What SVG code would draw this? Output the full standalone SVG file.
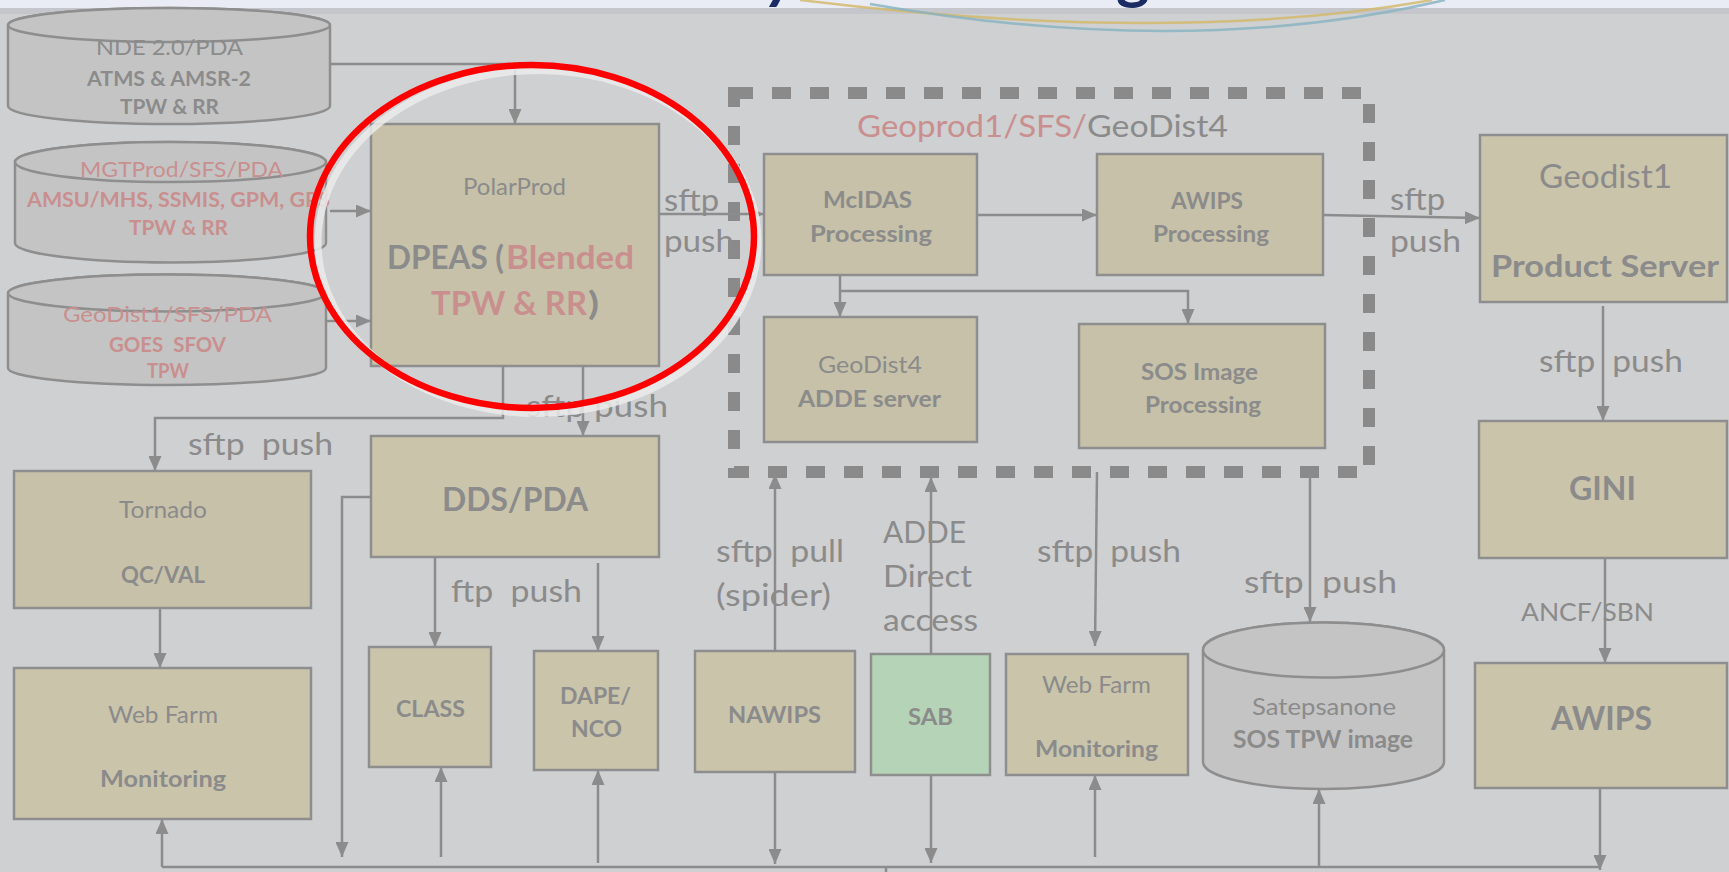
<svg xmlns="http://www.w3.org/2000/svg" width="1729" height="872" viewBox="0 0 1729 872">
<defs>
<style>
.bx{fill:#cac4ab;stroke:#8e8e8e;stroke-width:2.5}
.bx2{fill:#c6c1a8;stroke:#8e8e8e;stroke-width:2.5}
.cy{fill:#c4c4c4;stroke:#8e8e8e;stroke-width:2.5}
.t{font-family:Lato,'Open Sans','Liberation Sans',sans-serif;fill:#8b8b8b;white-space:pre}
.b{font-weight:bold}
.pk{fill:#c98f8f}
.ln{fill:none;stroke:#8c8c8c;stroke-width:2.5}
.ar{marker-end:url(#ah)}
</style>
<marker id="ah" viewBox="0 0 15 13" refX="15" refY="6.5" markerWidth="15" markerHeight="13" markerUnits="userSpaceOnUse" orient="auto"><path d="M0,0 L15,6.5 L0,13 z" fill="#8c8c8c"/></marker>
</defs>
<rect x="0" y="0" width="1729" height="872" fill="#cfd0d2"/>
<rect x="0" y="0" width="1729" height="8" fill="#e9ecf4"/>
<rect x="0" y="8" width="1729" height="6" fill="#c5c6cb"/>
<g id="title-fragments">
<path d="M800,0 Q1174,46 1432,0" fill="none" stroke="#d2b868" stroke-width="2.5" opacity="0.8"/>
<path d="M870,4 Q1190,60 1445,0" fill="none" stroke="#86b2c2" stroke-width="2.5" opacity="0.8"/>
<text x="766" y="-3" font-family="Lato,sans-serif" font-size="64" font-weight="bold" font-style="italic" fill="#1b2b63">y</text>
<text x="1116" y="-3" font-family="Lato,sans-serif" font-size="64" font-weight="bold" fill="#1b2b63">g</text>
</g>

<g id="nde">
<path class="cy" d="M8,25 V106 A161,18 0 0 0 330,106 V25 A161,17 0 0 0 8,25 Z"/>
<ellipse class="cy" cx="169" cy="25" rx="161" ry="17"/>
<text class="t" x="96" y="55" font-size="21" textLength="147" lengthAdjust="spacingAndGlyphs">NDE 2.0/PDA</text>
<text class="t b" x="87" y="86" font-size="21" textLength="164" lengthAdjust="spacingAndGlyphs">ATMS &amp; AMSR-2</text>
<text class="t b" x="120" y="114" font-size="21" textLength="99" lengthAdjust="spacingAndGlyphs">TPW &amp; RR</text>
</g>
<g id="mgtprod">
<path class="cy" d="M15,162 V243 A155.5,19.5 0 0 0 326,243 V162 A155.5,20 0 0 0 15,162 Z"/>
<ellipse class="cy" cx="170.5" cy="162" rx="155.5" ry="20"/>
<text class="t pk" x="80" y="177" font-size="22" textLength="203" lengthAdjust="spacingAndGlyphs">MGTProd/SFS/PDA</text>
<text class="t b pk" x="27" y="207" font-size="21" textLength="303" lengthAdjust="spacingAndGlyphs">AMSU/MHS, SSMIS, GPM, GPS</text>
<text class="t b pk" x="129" y="235" font-size="21" textLength="99" lengthAdjust="spacingAndGlyphs">TPW &amp; RR</text>
</g>
<g id="geodist1-pda">
<path class="cy" d="M8,293 V368 A159,17 0 0 0 326,368 V293 A159,18.5 0 0 0 8,293 Z"/>
<ellipse class="cy" cx="167" cy="293" rx="159" ry="18.5"/>
<text class="t pk" x="63" y="322" font-size="22" textLength="209" lengthAdjust="spacingAndGlyphs">GeoDist1/SFS/PDA</text>
<text class="t b pk" x="109" y="352" font-size="21" textLength="117" lengthAdjust="spacingAndGlyphs">GOES  SFOV</text>
<text class="t b pk" x="147" y="378" font-size="21" textLength="42" lengthAdjust="spacingAndGlyphs">TPW</text>
</g>

<g id="geoprod-container">
<rect x="734" y="93" width="635" height="379" fill="none" stroke="#8a8a8a" stroke-width="12" stroke-dasharray="19 19"/>
<text class="t pk" x="857" y="137" font-size="31" textLength="230" lengthAdjust="spacingAndGlyphs">Geoprod1/SFS/</text>
<text class="t" x="1087" y="137" font-size="31" textLength="141" lengthAdjust="spacingAndGlyphs">GeoDist4</text>
</g>

<g id="dpeas">
<rect class="bx2" x="371" y="124" width="288" height="242"/>
<text class="t" x="463" y="195" font-size="23" textLength="103" lengthAdjust="spacingAndGlyphs">PolarProd</text>
<text class="t b" x="387" y="269" font-size="33" textLength="117" lengthAdjust="spacingAndGlyphs">DPEAS (</text>
<text class="t b pk" x="506" y="269" font-size="33" textLength="128" lengthAdjust="spacingAndGlyphs">Blended</text>
<text class="t b pk" x="431" y="315" font-size="33" textLength="156" lengthAdjust="spacingAndGlyphs">TPW &amp; RR</text>
<text class="t b" x="588" y="315" font-size="33" textLength="11" lengthAdjust="spacingAndGlyphs">)</text>
</g>
<g id="mcidas">
<rect class="bx2" x="764" y="154" width="213" height="121"/>
<text class="t b" x="823" y="208" font-size="23" textLength="89" lengthAdjust="spacingAndGlyphs">McIDAS</text>
<text class="t b" x="810" y="242" font-size="23" textLength="122" lengthAdjust="spacingAndGlyphs">Processing</text>
</g>
<g id="awips-processing">
<rect class="bx2" x="1097" y="154" width="226" height="121"/>
<text class="t b" x="1171" y="209" font-size="23" textLength="72" lengthAdjust="spacingAndGlyphs">AWIPS</text>
<text class="t b" x="1153" y="242" font-size="23" textLength="116" lengthAdjust="spacingAndGlyphs">Processing</text>
</g>
<g id="geodist4-adde">
<rect class="bx2" x="764" y="317" width="213" height="125"/>
<text class="t" x="818" y="373" font-size="23" textLength="104" lengthAdjust="spacingAndGlyphs">GeoDist4</text>
<text class="t b" x="798" y="407" font-size="23" textLength="143" lengthAdjust="spacingAndGlyphs">ADDE server</text>
</g>
<g id="sos-image">
<rect class="bx2" x="1079" y="324" width="246" height="124"/>
<text class="t b" x="1141" y="380" font-size="23" textLength="117" lengthAdjust="spacingAndGlyphs">SOS Image</text>
<text class="t b" x="1145" y="413" font-size="23" textLength="116" lengthAdjust="spacingAndGlyphs">Processing</text>
</g>
<g id="geodist1-server">
<rect class="bx" x="1480" y="135" width="247" height="167"/>
<text class="t" x="1539" y="188" font-size="32" textLength="133" lengthAdjust="spacingAndGlyphs">Geodist1</text>
<text class="t b" x="1491" y="277" font-size="31" textLength="228" lengthAdjust="spacingAndGlyphs">Product Server</text>
</g>
<g id="gini">
<rect class="bx" x="1479" y="421" width="248" height="137"/>
<text class="t b" x="1569" y="500" font-size="33" textLength="67" lengthAdjust="spacingAndGlyphs">GINI</text>
</g>
<g id="awips">
<rect class="bx" x="1475" y="663" width="252" height="125"/>
<text class="t b" x="1551" y="730" font-size="33" textLength="101" lengthAdjust="spacingAndGlyphs">AWIPS</text>
</g>
<g id="tornado">
<rect class="bx2" x="14" y="471" width="297" height="137"/>
<text class="t" x="119" y="518" font-size="23" textLength="88" lengthAdjust="spacingAndGlyphs">Tornado</text>
<text class="t b" x="121" y="583" font-size="23" textLength="84" lengthAdjust="spacingAndGlyphs">QC/VAL</text>
</g>
<g id="webfarm-left">
<rect class="bx" x="14" y="668" width="297" height="151"/>
<text class="t" x="108" y="723" font-size="23" textLength="110" lengthAdjust="spacingAndGlyphs">Web Farm</text>
<text class="t b" x="100" y="787" font-size="23" textLength="126" lengthAdjust="spacingAndGlyphs">Monitoring</text>
</g>
<g id="dds-pda">
<rect class="bx" x="371" y="436" width="288" height="121"/>
<text class="t b" x="442" y="511" font-size="33" textLength="146" lengthAdjust="spacingAndGlyphs">DDS/PDA</text>
</g>
<g id="class">
<rect class="bx" x="369" y="647" width="122" height="120"/>
<text class="t b" x="396" y="717" font-size="23" textLength="69" lengthAdjust="spacingAndGlyphs">CLASS</text>
</g>
<g id="dape-nco">
<rect class="bx" x="534" y="651" width="124" height="119"/>
<text class="t b" x="560" y="704" font-size="23" textLength="71" lengthAdjust="spacingAndGlyphs">DAPE/</text>
<text class="t b" x="571" y="737" font-size="23" textLength="51" lengthAdjust="spacingAndGlyphs">NCO</text>
</g>
<g id="nawips">
<rect class="bx" x="695" y="651" width="160" height="121"/>
<text class="t b" x="728" y="723" font-size="23" textLength="93" lengthAdjust="spacingAndGlyphs">NAWIPS</text>
</g>
<g id="sab">
<rect x="871" y="654" width="119" height="121" fill="#b5d3b6" stroke="#8e8e8e" stroke-width="2.5"/>
<text class="t b" x="908" y="725" font-size="23" textLength="45" lengthAdjust="spacingAndGlyphs">SAB</text>
</g>
<g id="webfarm-mid">
<rect class="bx" x="1006" y="654" width="182" height="121"/>
<text class="t" x="1042" y="693" font-size="23" textLength="109" lengthAdjust="spacingAndGlyphs">Web Farm</text>
<text class="t b" x="1035" y="757" font-size="23" textLength="123" lengthAdjust="spacingAndGlyphs">Monitoring</text>
</g>
<g id="satepsanone">
<path class="cy" d="M1203,650 V762 A120.5,27 0 0 0 1444,762 V650 A120.5,27.5 0 0 0 1203,650 Z"/>
<ellipse class="cy" cx="1323.5" cy="650" rx="120.5" ry="27.5"/>
<text class="t" x="1252" y="715" font-size="24" textLength="144" lengthAdjust="spacingAndGlyphs">Satepsanone</text>
<text class="t b" x="1233" y="748" font-size="24" textLength="180" lengthAdjust="spacingAndGlyphs">SOS TPW image</text>
</g>

<g id="connectors">
<polyline class="ln ar" points="330,64 515,64 515,124"/>
<line class="ln ar" x1="330" y1="211" x2="371" y2="211"/>
<line class="ln ar" x1="326" y1="321" x2="371" y2="321"/>
<line class="ln ar" x1="659" y1="214" x2="764" y2="214"/>
<line class="ln ar" x1="977" y1="215" x2="1097" y2="215"/>
<line class="ln ar" x1="1323" y1="215" x2="1480" y2="218"/>
<line class="ln ar" x1="840" y1="275" x2="840" y2="317"/>
<polyline class="ln ar" points="840,291 1188,291 1188,324"/>
<line class="ln ar" x1="1603" y1="306" x2="1603" y2="421"/>
<line class="ln ar" x1="1605" y1="558" x2="1605" y2="663"/>
<polyline class="ln ar" points="503,366 503,418 155,418 155,471"/>
<line class="ln ar" x1="583" y1="366" x2="583" y2="436"/>
<polyline class="ln ar" points="371,497 342,497 342,857"/>
<line class="ln ar" x1="435" y1="557" x2="435" y2="647"/>
<line class="ln ar" x1="598" y1="563" x2="598" y2="651"/>
<line class="ln ar" x1="160" y1="608" x2="160" y2="668"/>
<polyline class="ln" points="162,867 1600,867"/>
<line class="ln ar" x1="162" y1="867" x2="162" y2="819"/>
<line class="ln ar" x1="441" y1="857" x2="441" y2="767"/>
<line class="ln ar" x1="598" y1="863" x2="598" y2="770"/>
<line class="ln ar" x1="775" y1="772" x2="775" y2="864"/>
<line class="ln ar" x1="931" y1="775" x2="931" y2="863"/>
<line class="ln ar" x1="1095" y1="857" x2="1095" y2="775"/>
<line class="ln ar" x1="1319" y1="867" x2="1319" y2="789"/>
<line class="ln ar" x1="1600" y1="788" x2="1600" y2="870"/>
<line class="ln" x1="886" y1="867" x2="886" y2="872"/>
<line class="ln ar" x1="775" y1="651" x2="775" y2="474"/>
<line class="ln ar" x1="931" y1="654" x2="931" y2="477"/>
<line class="ln ar" x1="1097" y1="472" x2="1095" y2="646"/>
<line class="ln ar" x1="1310" y1="472" x2="1310" y2="622"/>
<text class="t" x="664" y="211" font-size="30" textLength="55" lengthAdjust="spacingAndGlyphs">sftp</text>
<text class="t" x="664" y="252" font-size="30" textLength="70" lengthAdjust="spacingAndGlyphs">push</text>
<text class="t" x="1390" y="210" font-size="30" textLength="55" lengthAdjust="spacingAndGlyphs">sftp</text>
<text class="t" x="1390" y="252" font-size="30" textLength="71" lengthAdjust="spacingAndGlyphs">push</text>
<text class="t" x="1539" y="372" font-size="31" textLength="144" lengthAdjust="spacingAndGlyphs">sftp  push</text>
<text class="t" x="1521" y="621" font-size="25" textLength="133" lengthAdjust="spacingAndGlyphs">ANCF/SBN</text>
<text class="t" x="188" y="455" font-size="31" textLength="145" lengthAdjust="spacingAndGlyphs">sftp  push</text>
<text class="t" x="526" y="417" font-size="31" textLength="142" lengthAdjust="spacingAndGlyphs">sftp push</text>
<text class="t" x="451" y="602" font-size="31" textLength="131" lengthAdjust="spacingAndGlyphs">ftp  push</text>
<text class="t" x="716" y="562" font-size="31" textLength="128" lengthAdjust="spacingAndGlyphs">sftp  pull</text>
<text class="t" x="716" y="606" font-size="31" textLength="115" lengthAdjust="spacingAndGlyphs">(spider)</text>
<text class="t" x="883" y="543" font-size="31" textLength="83" lengthAdjust="spacingAndGlyphs">ADDE</text>
<text class="t" x="883" y="587" font-size="31" textLength="89" lengthAdjust="spacingAndGlyphs">Direct</text>
<text class="t" x="883" y="631" font-size="31" textLength="95" lengthAdjust="spacingAndGlyphs">access</text>
<text class="t" x="1037" y="562" font-size="31" textLength="144" lengthAdjust="spacingAndGlyphs">sftp  push</text>
<text class="t" x="1244" y="593" font-size="31" textLength="153" lengthAdjust="spacingAndGlyphs">sftp  push</text>
</g>

<g id="highlight">
<ellipse cx="538" cy="242" rx="220" ry="171.5" fill="none" stroke="#ebebeb" stroke-width="7" opacity="0.85"/>
<ellipse cx="532" cy="236.5" rx="222" ry="171.5" fill="none" stroke="#ff0000" stroke-width="6.5"/>
</g>
</svg>
